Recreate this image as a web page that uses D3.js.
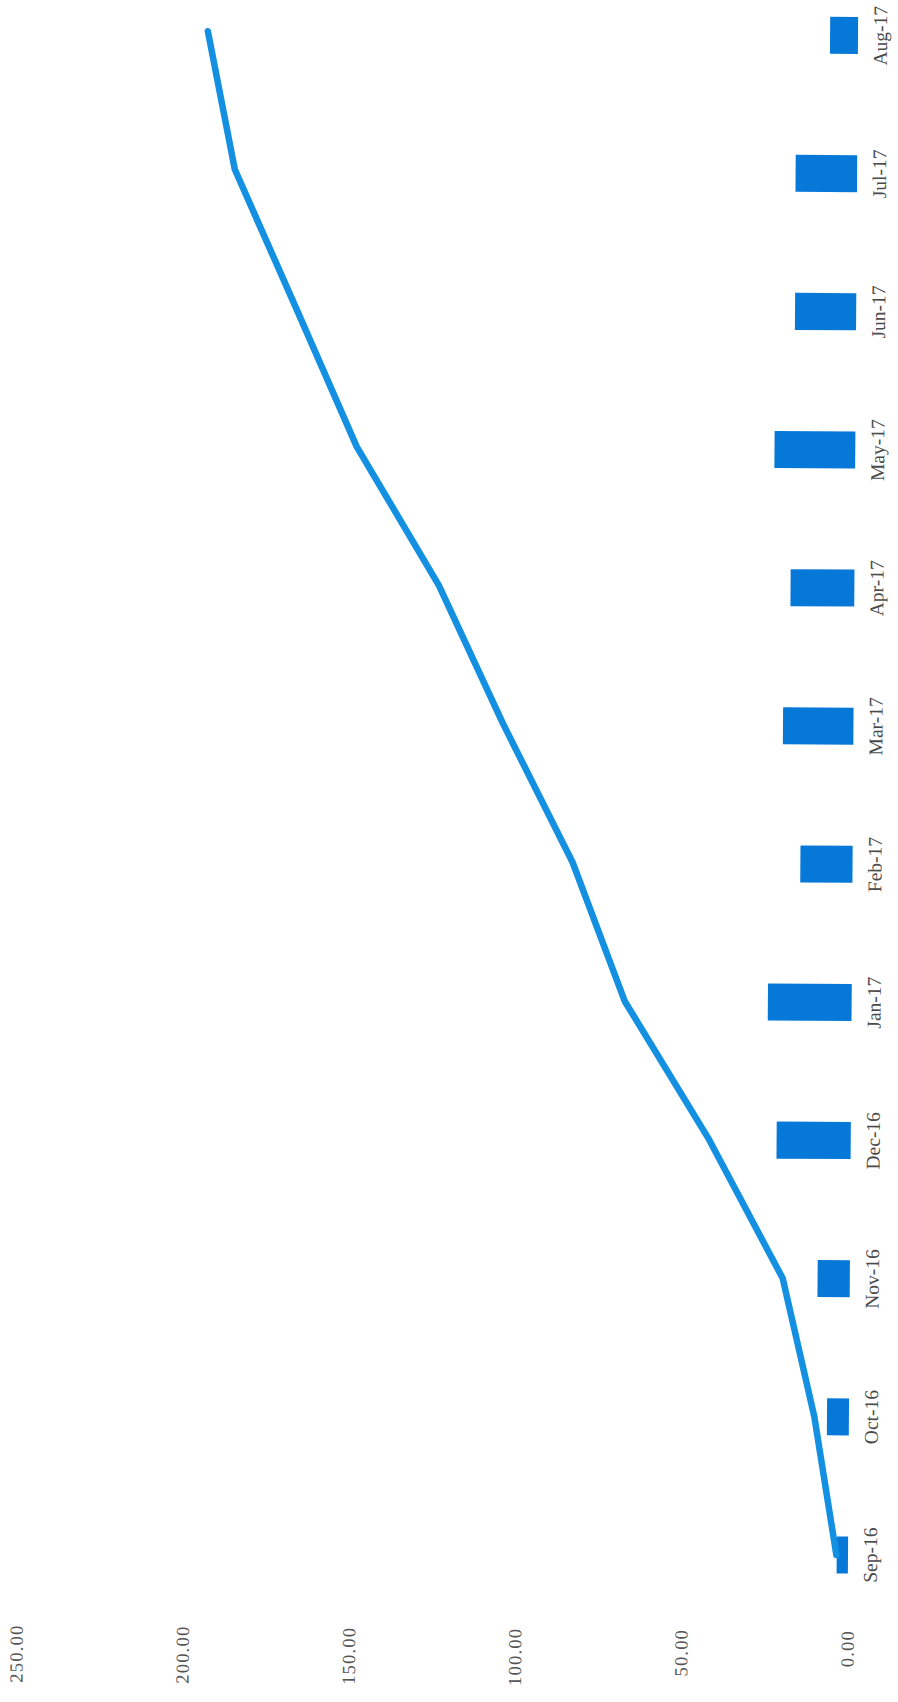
<!DOCTYPE html>
<html>
<head>
<meta charset="utf-8">
<script src="https://cdn.jsdelivr.net/npm/d3@7"></script>
<style>
  html, body { margin: 0; padding: 0; background: #fff; }
  svg { display: block; }
  text { font-family: "Liberation Serif", "DejaVu Serif", serif; }
</style>
</head>
<body>
<svg id="chart" width="898" height="1702"></svg>
<script>
// Monthly categories
const months = ["Sep-16","Oct-16","Nov-16","Dec-16","Jan-17","Feb-17","Mar-17","Apr-17","May-17","Jun-17","Jul-17","Aug-17"];
// Monthly amounts (bars)
const monthly = [3.4, 6.6, 9.7, 22.3, 25.2, 15.7, 21.2, 19.2, 24.3, 18.4, 18.5, 8.4];
// Running total (line)
const cumulative = [3.5, 10.4, 20.2, 42.6, 68.3, 84.2, 105.4, 125.0, 150.0, 168.5, 187.2, 195.6];
// Value axis ticks
const valueTicks = [0, 50, 100, 150, 200, 250];

const W = 1702, H = 898;   // chart drawn in landscape, then turned onto the page
const svg = d3.select("#chart");
svg.append("rect").attr("width", 898).attr("height", 1702).attr("fill", "#fff");

const g = svg.append("g")
  .attr("transform", "rotate(0.377, 848, 1555) translate(0," + W + ") rotate(-90)");

const x = d3.scaleBand()
  .domain(months)
  .range([77.9, 1735.6])
  .paddingInner(0.732)
  .paddingOuter(0.366);

const y = d3.scaleLinear().domain([0, 250]).range([848, 17]);

// value labels
g.append("g").selectAll("text")
  .data(valueTicks)
  .join("text")
  .attr("x", 72)
  .attr("y", d => y(d))
  .attr("dy", "0.34em")
  .attr("text-anchor", "end")
  .attr("fill", "#555")
  .attr("font-size", 18.5)
  .attr("letter-spacing", "1.2px")
  .text(d3.format(".2f"));

// bars
g.append("g").selectAll("rect")
  .data(months.map((m, i) => ({ m, v: monthly[i] })))
  .join("rect")
  .attr("x", d => x(d.m))
  .attr("width", x.bandwidth())
  .attr("y", d => y(d.v))
  .attr("height", d => y(0) - y(d.v))
  .attr("fill", "#0679d8");

// running total line
const line = d3.line()
  .x(d => x(d.m) + x.bandwidth() / 2)
  .y(d => y(d.v));

g.append("path")
  .datum(months.map((m, i) => ({ m, v: cumulative[i] })))
  .attr("d", line)
  .attr("fill", "none")
  .attr("stroke", "#1390e2")
  .attr("stroke-width", 6.5)
  .attr("stroke-linejoin", "round")
  .attr("stroke-linecap", "round");

// category labels
g.append("g").selectAll("text")
  .data(months)
  .join("text")
  .attr("x", d => x(d) + x.bandwidth() / 2)
  .attr("y", 877)
  .attr("text-anchor", "middle")
  .attr("fill", "#4a4a4a")
  .attr("font-size", 19.5)
  .text(d => d);
</script>
</body>
</html>
